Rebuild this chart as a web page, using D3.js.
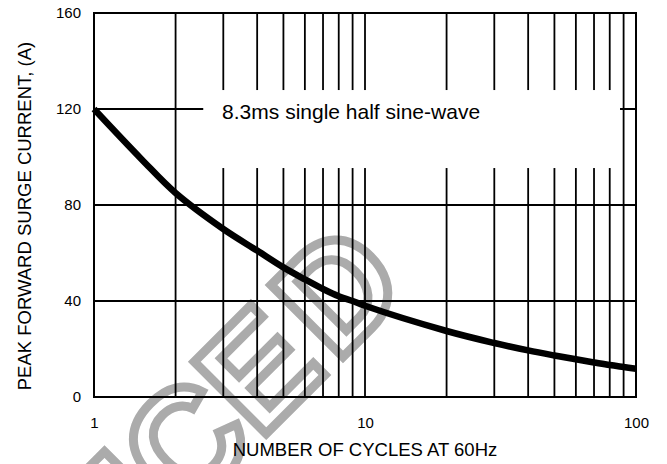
<!DOCTYPE html>
<html><head><meta charset="utf-8">
<script src="https://cdn.jsdelivr.net/npm/d3@7"></script>
<style>html,body{margin:0;padding:0;background:#fff;} svg{display:block;}</style>
</head><body>
<svg id="chart" width="667" height="464"></svg>
<script>
// ---- data ----
const cycles       = [1, 1.5, 2, 3, 4, 5, 6, 7, 8, 9, 10, 20, 30, 40, 50, 60, 70, 80, 90, 100];
const surgeCurrent = [120, 99, 85, 70, 61, 54, 49, 45, 42, 40, 38, 27.5, 22.5, 19.4, 17.3, 15.7, 14.4, 13.3, 12.5, 11.8];
const xTickValues  = [1, 10, 100];
const xGridValues  = [2, 3, 4, 5, 6, 7, 8, 9, 10, 20, 30, 40, 50, 60, 70, 80, 90];
const yTickValues  = [0, 40, 80, 120, 160];
const yGridValues  = [40, 80, 120];
const xTitle = "NUMBER OF CYCLES AT 60Hz";
const yTitle = "PEAK FORWARD SURGE CURRENT, (A)";
const noteText = "8.3ms single half sine-wave";
const watermarkText = "NCED";

// ---- layout ----
const W = 667, H = 464;
const m = {left: 94, right: 31, top: 13, bottom: 67};
const FONT = "'Liberation Sans', Arial, Helvetica, sans-serif";

const svg = d3.select("#chart");
const x = d3.scaleLog().domain([1, 100]).range([m.left, W - m.right]);
const y = d3.scaleLinear().domain([0, 160]).range([H - m.bottom, m.top]);

// watermark (behind everything)
svg.append("text")
  .attr("transform", "translate(108,592) rotate(-45)")
  .attr("dx", "0 0 0 10")
  .attr("font-family", FONT)
  .attr("font-weight", "bold")
  .attr("font-size", 148)
  .attr("fill", "none")
  .attr("stroke", "#ababab")
  .attr("stroke-width", 9)
  .text(watermarkText);

const g = svg.append("g");

// grid
g.selectAll("line.vg").data(xGridValues).join("line")
  .attr("x1", d => x(d)).attr("x2", d => x(d))
  .attr("y1", y(0)).attr("y2", y(160))
  .attr("stroke", "#000").attr("stroke-width", 1.8);
g.selectAll("line.hg").data(yGridValues).join("line")
  .attr("x1", x(1)).attr("x2", x(100))
  .attr("y1", d => y(d)).attr("y2", d => y(d))
  .attr("stroke", "#000").attr("stroke-width", 1.8);

// frame
g.append("rect")
  .attr("x", x(1)).attr("y", y(160))
  .attr("width", x(100) - x(1)).attr("height", y(0) - y(160))
  .attr("fill", "none").attr("stroke", "#000").attr("stroke-width", 2);

// note box (white gap in grid) and note text
const noteBox = {x0: 2.53, x1: 87.3, y0: 95.4, y1: 127.9};
g.append("rect")
  .attr("x", x(noteBox.x0)).attr("y", y(noteBox.y1))
  .attr("width", x(noteBox.x1) - x(noteBox.x0))
  .attr("height", y(noteBox.y0) - y(noteBox.y1))
  .attr("fill", "#fff");
g.append("text")
  .attr("x", x(2.97)).attr("y", y(115.8))
  .attr("font-family", FONT).attr("font-size", 21).attr("fill", "#000")
  .text(noteText);

// curve
const pts = cycles.map((c, i) => [c, surgeCurrent[i]]);
g.append("path")
  .datum(pts)
  .attr("fill", "none").attr("stroke", "#000").attr("stroke-width", 6.5)
  .attr("stroke-linejoin", "round")
  .attr("d", d3.line().x(d => x(d[0])).y(d => y(d[1])).curve(d3.curveCatmullRom.alpha(0.5)));

// axes
const xAxis = svg.append("g")
  .attr("transform", `translate(0,${y(0)})`)
  .call(d3.axisBottom(x).tickValues(xTickValues).tickFormat(d3.format("d")).tickSize(0).tickPadding(20));
const yAxis = svg.append("g")
  .attr("transform", `translate(${x(1)},0)`)
  .call(d3.axisLeft(y).tickValues(yTickValues).tickFormat(d3.format("d")).tickSize(0).tickPadding(13));
[xAxis, yAxis].forEach(a => {
  a.select(".domain").remove();
  a.selectAll("text").attr("font-family", FONT).attr("font-size", 15).attr("fill", "#000");
});

// titles
svg.append("text")
  .attr("x", (x(1) + x(100)) / 2).attr("y", 456)
  .attr("text-anchor", "middle")
  .attr("font-family", FONT).attr("font-size", 18.5).attr("fill", "#000")
  .text(xTitle);
svg.append("text")
  .attr("transform", "translate(31,216) rotate(-90)")
  .attr("text-anchor", "middle")
  .attr("font-family", FONT).attr("font-size", 18.5).attr("fill", "#000")
  .text(yTitle);
</script>
</body></html>
